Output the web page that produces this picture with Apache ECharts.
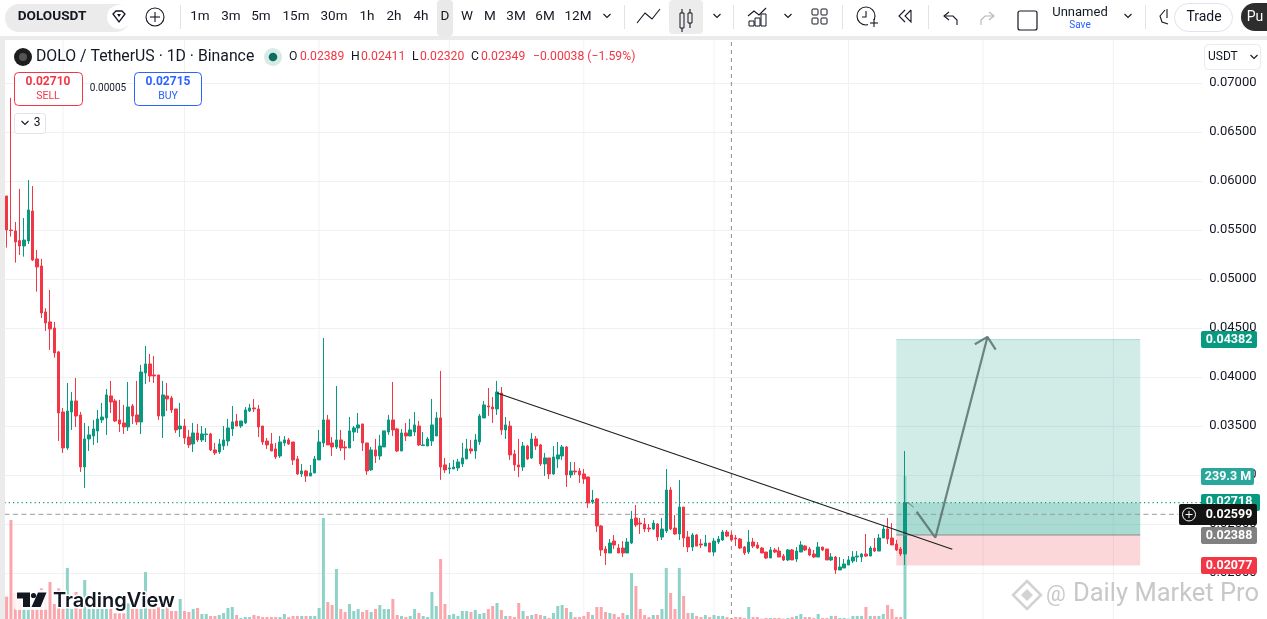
<!DOCTYPE html>
<html><head><meta charset="utf-8">
<style>html,body{margin:0;padding:0;background:#fff;overflow:hidden}#c{width:1267px;height:619px}</style>
<script src="https://cdn.jsdelivr.net/npm/echarts@6/dist/echarts.min.js"></script>
</head><body><div id="c"></div>
<script>
// Prices in units of 0.0001 USDT, one entry per daily candle
const PRICE_UNIT = 0.0001;
const opens = [584.7,550,549,539.2,533.7,538.8,569.4,520.5,513.3,466.4,456.2,450,425.6,364.3,327.6,364.3,375.6,361.3,308.2,336.8,339.8,344.9,356.2,358.2,380.7,375.6,356.2,353.1,349,370.5,361.3,354.1,404.1,413.3,402.1,402.1,360.2,380.7,378.6,367.4,347,350,338.8,331.7,342.9,335.8,341.2,341.9,325.6,323.5,329.7,334.7,347,355.1,350,353.1,365.3,368.4,367.4,350,334.7,331.7,326.6,319.4,332.7,335.8,333.7,316.4,
301.1,304.1,299,302.1,315.4,332.7,356.2,332.7,328.6,335.8,328.6,327.6,343.9,348,352.1,332.7,305.2,325.6,319.4,328.6,343.9,356.2,347,324.5,342.9,339.8,343.9,350,330,329.6,334.7,339.8,358.2,310.3,306.2,306.2,307.2,311.3,316.4,326.6,324.5,333.7,358.2,370.5,369.4,367.4,383.7,346,350,321.5,310.3,308.2,329.6,317.4,336.8,330.7,311.3,317.4,301.1,316.4,319.4,328.6,300.1,304.1,304.1,301.1,298,272.5,275.6,
248,224.5,220.4,232.6,225.5,225.5,220.4,230.6,256.1,251,250,245.9,244.9,250,236.7,242.9,284.7,245.9,239.8,267.3,236.7,226.5,238.8,229.6,227.5,230.6,221.4,231.6,233.7,241.8,238.8,235.7,234.7,226.5,221.4,231.6,228.6,225.5,221.4,215.3,223.5,222.4,217.3,213.3,223.5,214.3,221.4,227.5,224.5,219.4,216.3,226.5,224.5,213.3,216.3,203.1,205.1,208.2,212.2,216.3,216.3,219.4,217.3,225.5,222.4,235.7,244.9,235.7,229.6,224.5,219.4];
const closes = [550,549.4,537.8,533.7,539.8,570.5,519.4,512.3,465.3,455.1,449,424.5,363.3,327.6,365.3,375.6,360.2,308.2,336.8,340.9,347,357.2,359.2,381.7,374.5,355.1,352.1,349,369.4,360.2,354.1,405.1,413.3,401.1,401.1,360.2,381.7,377.6,366.4,346,350,337.8,330.7,342.9,335.8,341.9,341.9,325.6,322.5,331.7,335.8,348,354.1,350,355.1,366.4,368.4,367.4,349,333.7,330.7,324.5,318.4,333.7,335.8,331.7,315.3,301.1,
304.1,299,302.1,316.4,333.7,356.2,330.7,328.6,335.8,327.6,327.6,345,348,351.1,332.7,304.1,325.6,319.4,329.6,345,356.2,346,324.5,342.9,339.8,346,351.1,330.7,330.7,336.8,351.1,358.2,308.2,305.2,307.2,308.2,313.3,317.4,326.6,324.5,335.8,360.3,371.5,369.4,367.4,384.7,346,351.1,320.5,310.3,308.2,329.6,316.4,336.8,329.6,311.3,317.4,301.1,318.4,320.5,328.6,300.1,304.1,303.1,300.1,296,271.5,274.5,248,
223.5,220.4,230.6,228.6,220.4,220.4,231.6,255.1,249,250,244.9,244.9,251,236.7,244.9,284.7,244.9,239.8,267.3,235.7,226.5,238.8,227.5,228.6,230.6,221.4,232.6,234.7,241.8,237.7,233.7,234.7,225.5,220.4,231.6,227.5,225.5,220.4,215.3,223.5,221.4,216.3,213.3,223.5,213.3,222.4,228.6,223.5,218.4,216.3,226.5,223.5,213.3,216.3,203.1,206.1,209.2,213.3,216.3,217.3,219.4,217.3,225.5,222.4,235.7,244.9,234.7,228.6,223.5,219.4,271.8];
const highs = [584.7,684.7,558.2,591.9,562.3,601.1,594.9,529.6,520.5,470.1,488.8,456.2,426.6,368.4,393.9,384.7,399,364.3,353.1,350,356.2,366.4,373.5,387.8,396,377.6,376.6,371.5,394.9,372.5,396,412.3,431.7,423.5,421.5,402.1,396,393.9,380.7,367.4,373.5,357.2,346,353.1,352.1,350,347.9,342.9,332.7,336.8,350,357.2,370.4,362.3,355.1,369.4,372.5,377.6,371.5,350,337.8,342.9,332.7,339.8,339.8,337.8,333.7,319.4,
311.3,305.2,310.3,319.4,346,439.8,361.3,338.8,390.9,346,334.7,359.2,350,363.3,352.1,332.7,328.6,336.8,340.9,345,361.3,394.9,348,347,353.1,357.2,364.3,355.2,343.9,338.8,377.6,364.3,406.2,317.4,312.3,315.4,316.4,332.7,336.8,335.8,341.9,362.3,375.6,388.8,379.6,396,389.8,359.2,355.2,325.6,336.8,333.7,330.7,342.9,339.8,331.7,322.5,317.4,329.6,333.7,330.7,329.6,313.3,313.3,307.2,306.2,298,284.8,276.6,
249,227.5,234.7,238.8,229.6,232.6,235.7,263.3,269.4,256.1,256.1,250,254,251,256.1,306.1,287.7,259.2,294.9,267.3,242.9,240.8,239.8,234.7,238.8,230.6,235.7,237.8,243.9,243.9,241.8,238.8,235.7,227.5,243.9,235.7,231.6,226.5,221.4,226.5,225.5,226.5,219.4,224.5,224.5,226.5,232.6,228.6,226.5,223.5,231.6,226.5,224.5,220.4,217.3,216.3,214.3,217.3,222.4,222.4,220.4,239.8,227.5,235.7,239.8,248,256.1,251,233.7,226.5,324.5];
const lows = [532,543.2,516.7,524.5,522.8,535.8,518.4,487.1,460.2,447,427.6,419.8,334.7,322.5,325.6,346,349,303.1,286.8,324.5,330.7,332.7,353.1,340.9,363.3,354.1,343.9,341.9,344.9,352.1,351.1,341.9,392.9,394.9,393.9,356.2,337.8,365.3,363.3,342.9,338.8,331.7,327.6,323.5,333.7,333.7,333.7,324.5,320.4,321.5,325.6,329.7,339.8,350,348,352.1,364.3,364.3,338.8,330.7,326.6,324.5,316.4,317.4,329.7,330.7,310.2,300,
298,292.9,299,302.1,315.4,328.6,330.7,319.4,326.6,324.5,315.4,327.6,334.7,342.9,324.5,300.1,304.1,312.3,315.4,328.6,340.9,339.8,323.5,324.5,334.7,339.8,339.8,329.6,329.6,329.6,329.6,339.8,295,302.1,301.1,306.2,304.1,308.2,316.4,321.5,316.4,330.7,358.2,360.3,353.1,361.3,340.9,336.8,315.4,304.1,298,304.1,315.4,316.4,325.6,309.2,299,296,300.1,307.2,315.4,287.8,297,300.1,291.9,290.9,266.4,270.5,241.9,
217.3,208.2,220.4,224.5,220.4,216.3,220.4,229.6,246.9,239.8,241.8,241.8,243.9,232.6,233.7,240.8,243.9,238.8,233.7,226.5,221.4,222.4,227.5,225.5,227.5,221.4,217.3,229.6,232.6,236.7,232.6,227.5,224.5,218.4,219.4,225.5,224.5,220.4,214.3,215.3,220.4,216.3,212.2,212.2,213.3,211.2,221.4,222.4,217.3,215.3,216.3,222.4,213.3,212.2,199,203.1,205.1,208.2,210.2,211.2,211.2,216.3,217.3,221.4,222.4,235.7,229.6,228.6,222.4,217.3,208.2];
// Volume in millions
const volumes = [37.4,165.6,43.5,31.8,16.7,16.7,16.7,16.7,51.3,42.9,61.9,25.1,51.3,16.7,85.3,16.7,45.2,16.7,65.3,16.7,16.7,16.7,16.7,16.7,16.7,9.5,9.5,9.5,26.2,16.7,16.7,16.7,78.6,16.7,16.7,19.5,16.7,19.5,13.4,13.4,33.5,13.4,11.7,16.7,18.4,8.4,8.4,5,5,6.7,10,18.4,20.1,6.7,1.7,3.3,3.3,6.7,5,3.3,3.3,3.3,3.3,3.3,8.4,3.3,5,5,
5,5,5,5,18.4,169,28.4,23.4,83.7,16.7,11.7,25.1,13.4,16.7,11.7,15.1,11.7,16.7,23.4,16.7,16.7,33.5,6.7,5,3.3,5,16.7,10,5,3.3,45.2,21.8,100.4,25.1,6.7,8.4,5,13.4,13.4,11.7,15.1,8.4,10,16.7,21.8,26.8,15.1,5,5,3.3,26.8,13.4,5,6.7,8.4,6.7,5,1.7,10,21.8,23.4,18.4,11.7,3.3,3.3,5,11.7,6.7,20.1,
20.1,11.7,10,8.4,3.3,10,6.7,77,55.2,16.7,6.7,3.3,6.7,6.7,16.7,85.3,43.5,16.7,85.3,38.5,10,10,5,3.3,6.7,3.3,6.7,5,5,3.3,1.7,3.3,3.3,1.7,20.1,3.3,3.3,0.6,1.7,1.7,1.7,1.7,0.6,1.7,3.3,5,8.4,3.3,3.3,1.7,8.4,1.7,1.7,5,5,1.7,1.7,0.6,5,5,5,20.1,5,5,5,8.4,23.4,16.7,3.3,3.3,239.3];
const SLOT_COUNT = 276;                       // candle slots including the empty space on the right
const priceTicks = {min:0.015, max:0.075, interval:0.005};
const timeGridDays = [13,41,72,102,133,163,194,225,255];
const longTarget = 0.04382, entryPrice = 0.02388, stopPrice = 0.02077, lastPrice = 0.02718, crossPrice = 0.02599;
const positionStart = 205, positionEnd = 261.2, crossDay = 167;
const trendLine = [[113,0.03837],[217.9,0.02242]];
const pathMain = [[209.7,0.02625],[214,0.0236],[226,0.04409]];
const pathHead = [[223.1,0.04334],[226,0.04409],[227.9,0.0428]];
const pathSmall = [[206.6,0.0267],[207.7,0.0272],[209,0.0267]];
const intervals = [['1m',200],['3m',231],['5m',261],['15m',296],['30m',334],['1h',367],['2h',394],['4h',421],['D',445],['W',467],['M',490],['3M',516],['6M',545],['12M',578]];

const GREEN='#089981', RED='#F23645', INK='#131722', UI='Roboto, sans-serif';
const candles = opens.map((o,i)=>[o,closes[i],lows[i],highs[i]].map(v=>+(v*PRICE_UNIT).toFixed(5)));
const volumeBars = volumes.map((v,i)=>({value:v,itemStyle:{color:closes[i]>=opens[i]?'#8fd3c8':'#faa6ac'}}));
const slots = Array.from({length:SLOT_COUNT},(_,i)=>String(i));

const Z=100;
const T=(text,x,y,o={})=>({type:'text',x,y,z:o.z||Z,silent:true,style:{text,fill:o.c||INK,fontSize:o.s||13,fontWeight:o.w||'normal',fontFamily:o.f||UI,textAlign:o.a||'center',textVerticalAlign:'middle',stroke:o.stroke,lineWidth:o.lw||0}});
const R=(x,y,w,h,fill,o={})=>({type:'rect',z:o.z||Z,silent:true,shape:{x,y,width:w,height:h,r:o.r||0},style:{fill,stroke:o.st||null,lineWidth:o.lw||1}});
const C=(cx,cy,r,fill,o={})=>({type:'circle',z:o.z||Z,silent:true,shape:{cx,cy,r},style:{fill,stroke:o.st||null,lineWidth:o.lw||1}});
const L=(pts,o={})=>({type:'polyline',z:o.z||Z,silent:true,shape:{points:pts},style:{fill:null,stroke:o.c||INK,lineWidth:o.lw||1.1}});
const G=(pts,fill,o={})=>({type:'polygon',z:o.z||Z,silent:true,shape:{points:pts},style:{fill,stroke:o.st||null,lineWidth:o.lw||1}});
const chev=(x,y,c)=>L([[x-3.5,y-2],[x,y+1.5],[x+3.5,y-2]],{c:c||INK,lw:1.1});

const chrome=[
  R(0,0,1267,36,'#fff'), R(0,36,1267,4,'#ebebeb'), R(0,36,5,583,'#ebebeb'),
  R(5,4,125,28,'#ebebeb',{r:14}), T('DOLOUSDT',52,17,{s:13.6,w:'bold'}),
  C(119,17,12,'#fff'), G([[113,14],[116,11],[122,11],[125,14],[119,22]],'#fff',{st:INK,lw:1.3}), G([[117,14],[121,14],[119,17]],INK),
  C(155,17,9,'#fff',{st:INK,lw:1.1}), L([[150,17],[160,17]]), L([[155,12],[155,22]]),
  R(180,5,1,24,'#e0e3eb'), R(437,0,16,36,'#e9e9e9',{r:4}),
  ...intervals.map(([t,x])=>T(t,x,17,{s:13.5})),
  chev(607,16), R(624,5,1,24,'#e0e3eb'),
  L([[637,23],[645,13],[652,19],[660,9]]),
  R(669,0,34,34,'#ececec',{r:4}),
  R(680,13,4,15,'#ececec',{st:INK}), L([[682,9],[682,13]]), L([[682,28],[682,32]]),
  R(688,13,4,10,'#ececec',{st:INK}), L([[690,9],[690,13]]), L([[690,23],[690,28]]),
  chev(717,16), R(733,5,1,24,'#e0e3eb'),
  L([[748,16],[754,11],[759,15],[766,8]]), R(749,21,5,5,'#fff',{st:INK}), R(755,18,5,8,'#fff',{st:INK}), R(761,14,5,12,'#fff',{st:INK}),
  chev(788,16),
  R(812,9,6,6,'#fff',{st:INK,r:1}), R(821,9,6,6,'#fff',{st:INK,r:1}), R(812,18,6,6,'#fff',{st:INK,r:1}), R(821,18,6,6,'#fff',{st:INK,r:1}),
  R(842,5,1,24,'#e0e3eb'),
  C(866,16,9,'#fff',{st:INK,lw:1.1}), L([[866,11],[866,17],[862,17]]), R(868,20,11,7,'#fff'), L([[870,23],[878,23]]), L([[874,19],[874,27]]),
  L([[905,10],[899,16],[905,22]]), L([[911,10],[905,16],[911,22],[911,10]]),
  R(928,5,1,24,'#e0e3eb'),
  L([[949,12],[944,16],[949,20]]), L([[944,16],[953,16],[957,20],[957,25]]),
  L([[989,12],[994,16],[989,20]],{c:'#b2b5be'}), L([[994,16],[985,16],[981,20],[981,25]],{c:'#b2b5be'}),
  R(1018,11,19,19,'#fff',{st:INK,lw:1.2,r:2}),
  T('Unnamed',1080,13,{s:13}), T('Save',1080,25,{s:10,c:'#2962ff'}), chev(1128,16),
  R(1145,5,1,24,'#e0e3eb'),
  L([[1165,10],[1160,16],[1162,22],[1168,24]]), L([[1167,9],[1167,18]]),
  R(1174.5,3.5,58,28,'#fff',{st:'#e0e3eb',r:14}), T('Trade',1204,17,{s:14}),
  R(1241,3,60,28,'#2e2e2e',{r:14}), T('Pu',1255,17,{s:14,c:'#fff'}),

  C(23,57,9,'#1d1d1d'), C(23,57,4,'#555'),
  T('DOLO / TetherUS · 1D · Binance',36,57,{s:15.8,a:'left'}),
  C(273,57,9,'#d6ebe6'), C(273,57,4.3,'#0b6e60'),
  T('O',289,57,{s:12.2,a:'left'}),T('0.02389',300,57,{s:12.2,a:'left',c:RED}),
  T('H',351,57,{s:12.2,a:'left'}),T('0.02411',361,57,{s:12.2,a:'left',c:RED}),
  T('L',412,57,{s:12.2,a:'left'}),T('0.02320',420,57,{s:12.2,a:'left',c:RED}),
  T('C',471,57,{s:12.2,a:'left'}),T('0.02349',481,57,{s:12.2,a:'left',c:RED}),
  T('−0.00038 (−1.59%)',533,57,{s:12.2,a:'left',c:RED}),

  R(14.5,72.5,68,33,'#fff',{st:RED,r:4}), T('0.02710',48,82,{s:12,w:'bold',c:RED}), T('SELL',48,96,{s:10.5,c:RED}),
  T('0.00005',108,88,{s:10}),
  R(134.5,72.5,67,33,'#fff',{st:'#2962ff',r:4}), T('0.02715',168,82,{s:12,w:'bold',c:'#2962ff'}), T('BUY',168,96,{s:10.5,c:'#2962ff'}),
  R(14.5,113.5,31,20,'#fff',{st:'#e0e3eb',r:3}), chev(25,123), T('3',37,123,{s:12}),

  R(1204.5,44.5,56,25,'#fff',{st:'#e8eaef',r:4}), T('USDT',1208,57,{s:12,a:'left'}), chev(1254,57),

  R(1201,494,59,17,GREEN,{r:2}), T('0.02718',1229,502,{s:12.5,w:'bold',c:'#fff'}),
  R(1201,331,56,17,GREEN,{r:2}), T('0.04382',1229,339.5,{s:12.5,w:'bold',c:'#fff'}),
  R(1201,468,53,17,'#2aa79b',{r:2}), T('239.3 M',1228,476.5,{s:12.5,w:'bold',c:'#fff'}),
  R(1179,504,78,21,'#131313',{r:2}), C(1189,514.5,6.5,'#131313',{st:'#fff'}), L([[1185.5,514.5],[1192.5,514.5]],{c:'#fff',lw:1}), L([[1189,511],[1189,518]],{c:'#fff',lw:1}),
  T('0.02599',1229,514.5,{s:12.5,w:'bold',c:'#fff'}),
  R(1201,527,56,17,'#808080',{r:2}), T('0.02388',1229,535.5,{s:12.5,w:'bold',c:'#fff'}),
  R(1201,557,56,17,RED,{r:2}), T('0.02077',1229,565.5,{s:12.5,w:'bold',c:'#fff'}),

  // TradingView mark
  R(14,590,34,20,'rgba(255,255,255,0.85)',{r:3}),
  G([[17,592.5],[30,592.5],[30,607],[23,607],[23,598.5],[17,598.5]],INK),
  C(33.5,595.5,2.6,INK),
  G([[38,592.5],[46.5,592.5],[40.5,607],[31.5,607]],INK),
  T('TradingView',53,601,{s:20,w:'600',a:'left',f:'Inter, sans-serif',stroke:'#fff',lw:3}),

  // Watermark
  G([[1027,581],[1041,595],[1027,609],[1013,595]],'#fff',{st:'#d2d2d2',lw:2.5}),
  G([[1027,589],[1033,595],[1027,601],[1021,595]],'#d2d2d2'),
  T('@',1056,595,{s:22,c:'#c9c9c9',stroke:'#fff',lw:2}),
  T('Daily Market Pro',1073,595,{s:25.5,a:'left',c:'#c8c8c8',stroke:'#fff',lw:2})
];

const lineSeries=(name,data,color,width,type,z)=>({name,type:'line',xAxisIndex:1,yAxisIndex:0,data,showSymbol:false,symbol:'none',silent:true,z,
  lineStyle:{color,width,type:type||'solid',cap:'butt'},clip:true,animation:false});

const rectSeries=(name,rows,z)=>({name,type:'custom',xAxisIndex:1,yAxisIndex:0,z,silent:true,clip:true,data:rows,
  renderItem:(p,api)=>{const a=api.coord([api.value(0),api.value(2)]),b=api.coord([api.value(1),api.value(3)]);
    return {type:'rect',shape:{x:a[0],y:a[1],width:b[0]-a[0],height:b[1]-a[1]},style:{fill:rows[p.dataIndex][4],stroke:null}};}});

const chart=echarts.init(document.getElementById('c'),null,{width:1267,height:619});
chart.setOption({
  animation:false,backgroundColor:'#fff',
  grid:{left:4.43,top:34,width:1197.84,height:588,containLabel:false,outerBoundsMode:'none'},
  xAxis:[
    {type:'category',data:slots,boundaryGap:true,axisLine:{show:false},axisTick:{show:false},axisLabel:{show:false},splitLine:{show:false}},
    {type:'value',min:-0.5,max:SLOT_COUNT-0.5,show:false,splitLine:{show:false}}
  ],
  yAxis:[
    {type:'value',position:'right',min:priceTicks.min,max:priceTicks.max,interval:priceTicks.interval,scale:false,
     axisLine:{show:false},axisTick:{show:false},
     axisLabel:{margin:7,showMinLabel:false,showMaxLabel:false,color:INK,fontSize:13,fontFamily:UI,formatter:v=>v.toFixed(5)},
     splitLine:{lineStyle:{color:'#f0f1f3',width:1}}},
    {type:'value',min:-5,max:978.7,show:false,splitLine:{show:false}}
  ],
  tooltip:{show:false},
  graphic:{elements:chrome},
  series:[
    ...timeGridDays.map((d,i)=>lineSeries('timeGrid'+i,[[d,priceTicks.min],[d,priceTicks.max]],'#f0f1f3',1,'solid',0)),
    rectSeries('position',[
      [positionStart,positionEnd,longTarget,entryPrice,'rgba(8,153,129,0.19)'],
      [positionStart,positionEnd,lastPrice,entryPrice,'rgba(8,153,129,0.2)'],
      [positionStart,positionEnd,entryPrice,stopPrice,'rgba(242,54,69,0.2)']
    ],1),
    {name:'Volume',type:'bar',xAxisIndex:0,yAxisIndex:1,data:volumeBars,barWidth:3,z:2,silent:true},
    lineSeries('positionTop',[[positionStart,longTarget],[positionEnd,longTarget]],'rgba(8,153,129,0.25)',1,'solid',2),
    lineSeries('lastPrice',[[-0.5,lastPrice],[SLOT_COUNT-0.5,lastPrice]],GREEN,1.2,[1.2,3.1],3),
    lineSeries('crossH',[[-0.5,crossPrice],[270,crossPrice]],'#9a9a9a',1,[5,3.5],3),
    lineSeries('crossV',[[crossDay,priceTicks.min],[crossDay,priceTicks.max]],'#8c8c8c',1,[4,4],3),
    {name:'DOLOUSDT',type:'candlestick',xAxisIndex:0,yAxisIndex:0,data:candles,barWidth:3,z:4,silent:true,
     itemStyle:{color:GREEN,color0:RED,borderColor:GREEN,borderColor0:RED,borderWidth:1,borderColorDoji:RED}},
    lineSeries('entryLine',[[positionStart,entryPrice],[positionEnd,entryPrice]],'#8b8b8b',1,'solid',5),
    lineSeries('trend',trendLine,'#1f1f1f',1.2,'solid',6),
    lineSeries('pathMain',pathMain,'rgba(92,116,112,0.88)',2.2,'solid',7),
    lineSeries('pathHead',pathHead,'rgba(92,116,112,0.88)',2.2,'solid',7),
    lineSeries('pathSmall',pathSmall,'rgba(92,116,112,0.6)',1.2,'solid',7)
  ]
});
</script></body></html>
